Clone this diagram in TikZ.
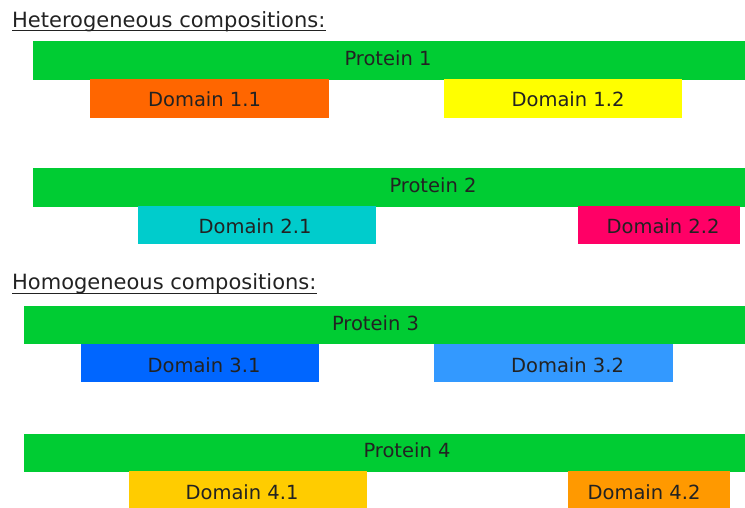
\documentclass[tikz,border=0pt]{standalone}
\usepackage{fontspec}
\setmainfont{DejaVu Sans}
\definecolor{pgreen}{HTML}{00CC33}
\definecolor{d11}{HTML}{FF6600}
\definecolor{d12}{HTML}{FFFF00}
\definecolor{d21}{HTML}{00CCCC}
\definecolor{d22}{HTML}{FF0066}
\definecolor{d31}{HTML}{0066FF}
\definecolor{d32}{HTML}{3399FF}
\definecolor{d41}{HTML}{FFCC00}
\definecolor{d42}{HTML}{FF9900}
\definecolor{txt}{HTML}{222222}
\tikzset{
  bar/.style={rectangle, draw=none, inner sep=0pt, anchor=north west, minimum height=38.5pt},
  protbar/.style={bar, fill=pgreen, minimum width=740pt},
  dombar/.style={bar, minimum width=238.5pt},
  lbl/.style={inner sep=0pt, anchor=base, text=txt, font=\fontsize{19.5}{22}\selectfont},
  heading/.style={inner sep=0pt, anchor=base west, text=txt, font=\fontsize{21}{24}\selectfont},
  uline/.style={draw=txt, line width=1.2pt}
}
\begin{document}
\begin{tikzpicture}[x=1pt,y=-1pt]
\useasboundingbox (0,0) rectangle (745,507);
% Heterogeneous
\node[heading] (h1) at (12,27) {Heterogeneous compositions:};
\draw[uline] ([yshift=-3.7pt]h1.base west) -- ([yshift=-3.7pt]h1.base east);
\node[protbar] (p1) at (33,41) {};
\node[dombar, fill=d11] (b11) at (90,79) {};
\node[dombar, fill=d12] (b12) at (443.3,79) {};
\node[lbl] (t1) at (388,65) {Protein 1};
\node[lbl] (t11) at (204.5,106.5) {Domain 1.1};
\node[lbl] (t12) at (568,106.5) {Domain 1.2};
\node[protbar] (p2) at (33,168) {};
\node[dombar, fill=d21] (b21) at (137.3,205.7) {};
\node[dombar, fill=d22, minimum width=162.4pt] (b22) at (577.3,205.5) {};
\node[lbl] (t2) at (433,192) {Protein 2};
\node[lbl] (t21) at (255,233.5) {Domain 2.1};
\node[lbl] (t22) at (663,233.5) {Domain 2.2};
% Homogeneous
\node[heading] (h2) at (12,289.5) {Homogeneous compositions:};
\draw[uline] ([yshift=-3.7pt]h2.base west) -- ([yshift=-3.7pt]h2.base east);
\node[protbar, minimum width=750pt] (p3) at (23.3,305.3) {};
\node[dombar, fill=d31] (b31) at (80.7,343.7) {};
\node[dombar, fill=d32] (b32) at (434,343.7) {};
\node[lbl] (t3) at (375.5,330) {Protein 3};
\node[lbl] (t31) at (204,372) {Domain 3.1};
\node[lbl] (t32) at (567.5,372) {Domain 3.2};
\node[protbar, minimum width=750pt] (p4) at (23.3,433.3) {};
\node[dombar, fill=d41] (b41) at (128.3,471) {};
\node[dombar, fill=d42, minimum width=162.4pt] (b42) at (567.3,471) {};
\node[lbl] (t4) at (407,457) {Protein 4};
\node[lbl] (t41) at (242,499) {Domain 4.1};
\node[lbl] (t42) at (644,499) {Domain 4.2};
\end{tikzpicture}
\end{document}
